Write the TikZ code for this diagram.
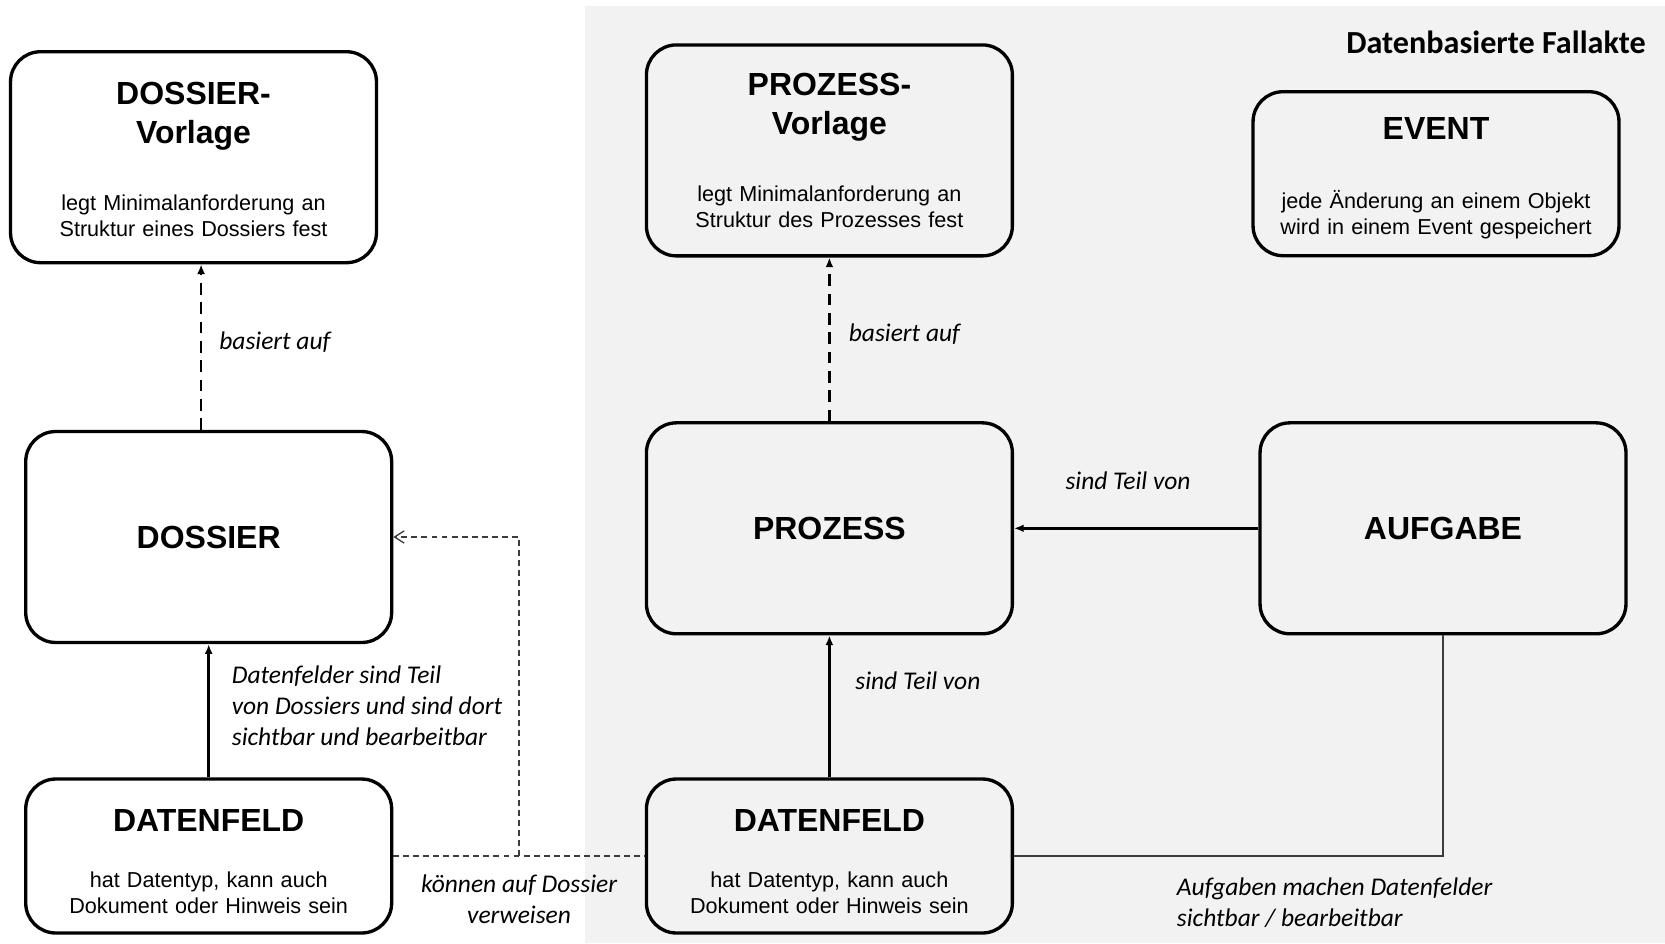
\documentclass[tikz,border=0pt]{standalone}
\usepackage{fontspec}
\setmainfont{Liberation Sans}
\newfontfamily\carlito{Carlito}
\usepackage{tikz}
\usetikzlibrary{arrows.meta,positioning,calc}

\definecolor{bggray}{RGB}{242,242,242}
\definecolor{linegray}{RGB}{60,60,60}

\newcommand{\hdfont}{\fontsize{18.2}{22.3}\selectfont\bfseries}
\newcommand{\bdfont}{\fontsize{12.3}{14.8}\selectfont}
\newcommand{\lbfont}{\carlito\itshape\fontsize{14.5}{17.6}\selectfont}
\newcommand{\boxtxt}[4][0pt]{{\hdfont\rule{0pt}{#1}#3\par}\vspace{#2}{#4\par}}

\begin{document}
\begin{tikzpicture}[x=0.02cm,y=-0.02cm,
  box/.style={draw,line width=1.9pt,rounded corners=0.6cm,minimum width=7.32cm,text width=7cm,align=center,inner sep=0pt,font=\bdfont},
  tallbox/.style={box,minimum height=4.22cm},
  lowbox/.style={box,minimum height=3.08cm},
  headbox/.style={tallbox,font=\hdfont},
  basis/.style={line width=1.5pt,dash pattern=on 6.5pt off 4.5pt,-{Latex[length=5.5pt,width=4.5pt]}},
  part/.style={line width=1.5pt,-{Latex[length=5.5pt,width=4.5pt]}},
  refline/.style={linegray,line width=0.75pt,dash pattern=on 3.4pt off 2.3pt},
  thinline/.style={linegray,line width=0.75pt},
  lbl/.style={font=\lbfont,inner sep=0pt}]

\useasboundingbox (0,0) rectangle (1665,943);
\fill[bggray] (585,6) rectangle (1665,943);

\node[font=\carlito\bfseries\fontsize{18.3}{21}\selectfont,inner sep=0pt] (title) at (1496,42) {Datenbasierte Fallakte};

\node[tallbox] (dvorl) at (193.5,157.2) {\boxtxt[15.5pt]{23.5pt}{DOSSIER-\\Vorlage}{legt Minimalanforderung an\\Struktur eines Dossiers fest}};
\node[headbox] (doss) at (208.7,537) {DOSSIER};
\node[lowbox] (dfeld1) at (208.7,856) {\boxtxt[19pt]{16.7pt}{DATENFELD}{hat Datentyp, kann auch\\Dokument oder Hinweis sein}};

\node[tallbox] (pvorl) at (829.4,150.4) {\boxtxt{23.5pt}{PROZESS-\\Vorlage}{legt Minimalanforderung an\\Struktur des Prozesses fest}};
\node[box,minimum height=3.28cm] (event) at (1436,173.7) {\boxtxt[17.3pt]{24.6pt}{EVENT}{jede Änderung an einem Objekt\\wird in einem Event gespeichert}};
\node[headbox] (proz) at (829.4,528.3) {PROZESS};
\node[headbox] (aufg) at (1443,528.3) {AUFGABE};
\node[lowbox] (dfeld2) at (829.4,856) {\boxtxt[19pt]{16.7pt}{DATENFELD}{hat Datentyp, kann auch\\Dokument oder Hinweis sein}};

\coordinate (lbase) at ($(dvorl.south)!.5!(doss.north)$);
\coordinate (rmid) at ($(dfeld1.east)!.5!(dfeld2.west)$);

\draw[basis] (doss.north -| lbase) -- (dvorl.south -| lbase);
\draw[part] (dfeld1) -- (doss);
\draw[refline] (dfeld1.east) -- (dfeld2.west);
\draw[refline,-{Straight Barb[length=5.5pt,width=7pt]}] (rmid) |- (doss.east);

\draw[basis] (proz) -- (pvorl);
\draw[part] (aufg) -- (proz);
\draw[part] (dfeld2) -- (proz);
\draw[thinline] (aufg.south) |- (dfeld2.east);

\node[lbl,anchor=west] (lbasis1) at (219,342) {basiert auf};
\node[lbl,anchor=west] (lbasis2) at (848.5,334.5) {basiert auf};
\node[lbl,anchor=west,align=left] (lteil1) at (231.5,706) {Datenfelder sind Teil\\von Dossiers und sind dort\\sichtbar und bearbeitbar};
\node[lbl,align=center] (lref) at ($(rmid)+(0,43.5)$) {können auf Dossier\\verweisen};
\node[lbl] (lteil2) at (1128,481) {sind Teil von};
\node[lbl,anchor=west] (lteil3) at (855,681) {sind Teil von};
\node[lbl,anchor=west,align=left] (lsicht) at (1176.6,902.7) {Aufgaben machen Datenfelder\\sichtbar / bearbeitbar};

\end{tikzpicture}
\end{document}
